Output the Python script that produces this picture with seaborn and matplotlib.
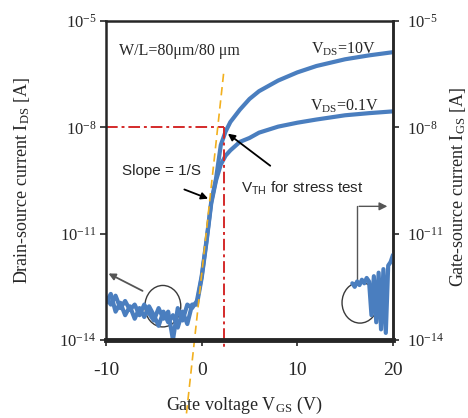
"""Transfer curve of a TFT: drain and gate current versus gate voltage."""

import matplotlib.pyplot as plt
import numpy as np
import seaborn as sns
from matplotlib.patches import Ellipse
from matplotlib.ticker import NullLocator

# gate sweep shared by both drain-current curves (V)
vgs = [-10.0, -9.5, -9.0, -8.5, -8.0, -7.5, -7.0, -6.5, -6.0, -5.5, -5.0, -4.5,
       -4.0, -3.5, -3.0, -2.5, -2.0, -1.5, -1.0, -0.5, 0.0, 0.5, 1.0, 1.5,
       2.0, 2.5, 3.0, 4.0, 5.0, 6.0, 8.0, 10.0, 12.0, 15.0, 17.5, 20.0]
# log10 of drain current (A)
log_ids_10v = [-12.8, -13.0, -12.75, -13.1, -12.9, -13.15, -13.0, -13.3, -13.0, -13.25,
               -13.45, -13.1, -13.4, -13.2, -14.0, -13.1, -13.45, -13.0, -13.1, -12.9,
               -12.2, -11.2, -10.1, -9.45, -8.5, -8.12, -7.85, -7.5, -7.2, -6.98,
               -6.68, -6.45, -6.27, -6.08, -5.97, -5.88]
log_ids_01v = [-12.95, -12.7, -13.2, -12.95, -13.3, -13.05, -13.4, -13.1, -13.35, -13.05,
               -13.3, -13.6, -13.2, -13.5, -13.3, -13.65, -13.2, -13.55, -13.0, -13.0,
               -12.25, -11.25, -10.15, -9.5, -9.05, -8.8, -8.65, -8.41, -8.3, -8.15,
               -7.98, -7.87, -7.78, -7.66, -7.6, -7.55]
# gate leakage, only shown at high VGS
vgs_gate = [15.75, 16.0, 16.25, 16.5, 16.75, 17.0, 17.25, 17.5, 17.75, 18.0,
            18.25, 18.5, 18.75, 19.0, 19.25, 19.5, 19.75, 20.0]
log_igs = [-12.4, -12.5, -12.35, -12.45, -12.3, -12.4, -12.25, -12.35, -13.3, -12.2,
           -13.5, -12.1, -13.7, -12.0, -13.8, -11.9, -11.8, -11.6]

vth = 2.3
i_th = 1e-8
slope_line_v = [2.29, -1.6]
slope_line_log = [-6.49, -16.1]

x_ticks = [-10, 0, 10, 20]
y_ticks = [1e-14, 1e-11, 1e-8, 1e-5]
y_tick_labels = [r"10$^{\mathrm{-14}}$", r"10$^{\mathrm{-11}}$",
                 r"10$^{\mathrm{-8}}$", r"10$^{\mathrm{-5}}$"]

BLUE = "#4a7ebf"

sns.set_theme(style="ticks")
plt.rcParams["font.family"] = ["Liberation Serif", "DejaVu Serif"]
plt.rcParams["mathtext.fontset"] = "custom"
plt.rcParams["mathtext.rm"] = "Liberation Serif"
plt.rcParams["mathtext.sf"] = "Liberation Sans"
plt.rcParams["mathtext.it"] = "Liberation Serif:italic"

fig = plt.figure(figsize=(4.68, 4.18), dpi=100)
ax = fig.add_axes([0.2265, 0.1866, 0.6132, 0.7632])
ax2 = ax.twinx()

ids_10v = 10.0 ** np.array(log_ids_10v)
ids_01v = 10.0 ** np.array(log_ids_01v)
igs = 10.0 ** np.array(log_igs)

sns.lineplot(x=vgs, y=ids_01v, ax=ax, color=BLUE, lw=3, sort=False, estimator=None)
sns.lineplot(x=vgs, y=ids_10v, ax=ax, color=BLUE, lw=3, sort=False, estimator=None)
sns.lineplot(x=vgs_gate, y=igs, ax=ax2, color=BLUE, lw=3, sort=False, estimator=None)

for a in (ax, ax2):
    a.set_yscale("log")
    a.set_ylim(1e-14, 1e-5)
    a.set_yticks(y_ticks)
    a.set_yticklabels(y_tick_labels)
    a.yaxis.set_minor_locator(NullLocator())
ax.set_xlim(-10, 20)
ax.set_xticks(x_ticks)
ax.set_xticklabels([str(t) for t in x_ticks])

# guide lines
ax.plot([-10, vth], [i_th, i_th], color="#d42a2a", lw=1.4, ls=(0, (6, 2, 1.5, 2)))
ax.plot([vth, vth], [i_th, 10 ** -14.2], color="#d42a2a", lw=1.4,
        ls=(0, (6, 2, 1.5, 2)), clip_on=False)
ax.plot(slope_line_v, 10.0 ** np.array(slope_line_log), color="#f2b01e", lw=1.2,
        ls=(0, (5, 3)), clip_on=False)

# spines and ticks
for side in ("left", "top", "right"):
    ax.spines[side].set_linewidth(1.8)
ax.spines["bottom"].set_linewidth(3.5)
for side in ("left", "top", "bottom"):
    ax2.spines[side].set_visible(False)
ax2.spines["right"].set_linewidth(1.8)
ax.tick_params(axis="y", direction="out", length=4, width=1.2, pad=3, labelsize=12)
ax.tick_params(axis="x", direction="out", length=4, width=1.2, pad=12, labelsize=14)
ax2.tick_params(axis="y", direction="out", length=4, width=1.2, pad=6, labelsize=12)

ax.set_xlabel(r"Gate voltage V$_{\mathrm{GS}}$ (V)", fontsize=13)
ax.xaxis.set_label_coords(0.483, -0.172)
ax.set_ylabel(r"Drain-source current I$_{\mathrm{DS}}$ [A]", fontsize=13)
ax.yaxis.set_label_coords(-0.258, 0.5)
ax2.set_ylabel(r"Gate-source current I$_{\mathrm{GS}}$ [A]", fontsize=13)
ax2.yaxis.set_label_coords(1.19, 0.48)

# annotations
ax.text(0.045, 0.906, "W/L=80\u03bcm/80 \u03bcm", transform=ax.transAxes,
        fontsize=11.5, ha="left", va="center")
ax.text(0.941, 0.9125, r"V$_{\mathrm{DS}}$=10V", transform=ax.transAxes,
        fontsize=11.5, ha="right", va="center")
ax.text(0.951, 0.734, r"V$_{\mathrm{DS}}$=0.1V", transform=ax.transAxes,
        fontsize=11.5, ha="right", va="center")
ax.text(0.056, 0.531, "Slope = 1/S", transform=ax.transAxes, fontsize=11,
        family="Liberation Sans", ha="left", va="center")
ax.text(0.472, 0.475, r"V$_{\mathsf{TH}}$ for stress test", transform=ax.transAxes,
        fontsize=11, family="Liberation Sans", ha="left", va="center")
arrow_black = dict(arrowstyle="-|>", color="black", lw=1.3, mutation_scale=10)
ax.annotate("", xy=(0.365, 0.44), xytext=(0.264, 0.475), xycoords="axes fraction",
            arrowprops=arrow_black)
ax.annotate("", xy=(0.417, 0.652), xytext=(0.58, 0.541), xycoords="axes fraction",
            arrowprops=arrow_black)

# circles marking the off-current and gate leakage
ax.add_patch(Ellipse((0.198, 0.106), 0.125, 0.13, transform=ax.transAxes,
                     fill=False, ec="#3a3a3a", lw=1))
ax.add_patch(Ellipse((0.885, 0.117), 0.125, 0.128, transform=ax.transAxes,
                     fill=False, ec="#3a3a3a", lw=1))
arrow_gray = dict(arrowstyle="-|>", color="#555555", lw=1.3, mutation_scale=10)
ax.annotate("", xy=(0.0, 0.2125), xytext=(0.136, 0.15), xycoords="axes fraction",
            arrowprops=arrow_gray)
ax.plot([0.875, 0.875], [0.181, 0.419], transform=ax.transAxes, color="#555555", lw=1)
ax.annotate("", xy=(0.99, 0.419), xytext=(0.872, 0.419), xycoords="axes fraction",
            arrowprops=dict(arrowstyle="-|>", color="#555555", lw=1.0, mutation_scale=12))

fig.savefig("out.png", dpi=100)
